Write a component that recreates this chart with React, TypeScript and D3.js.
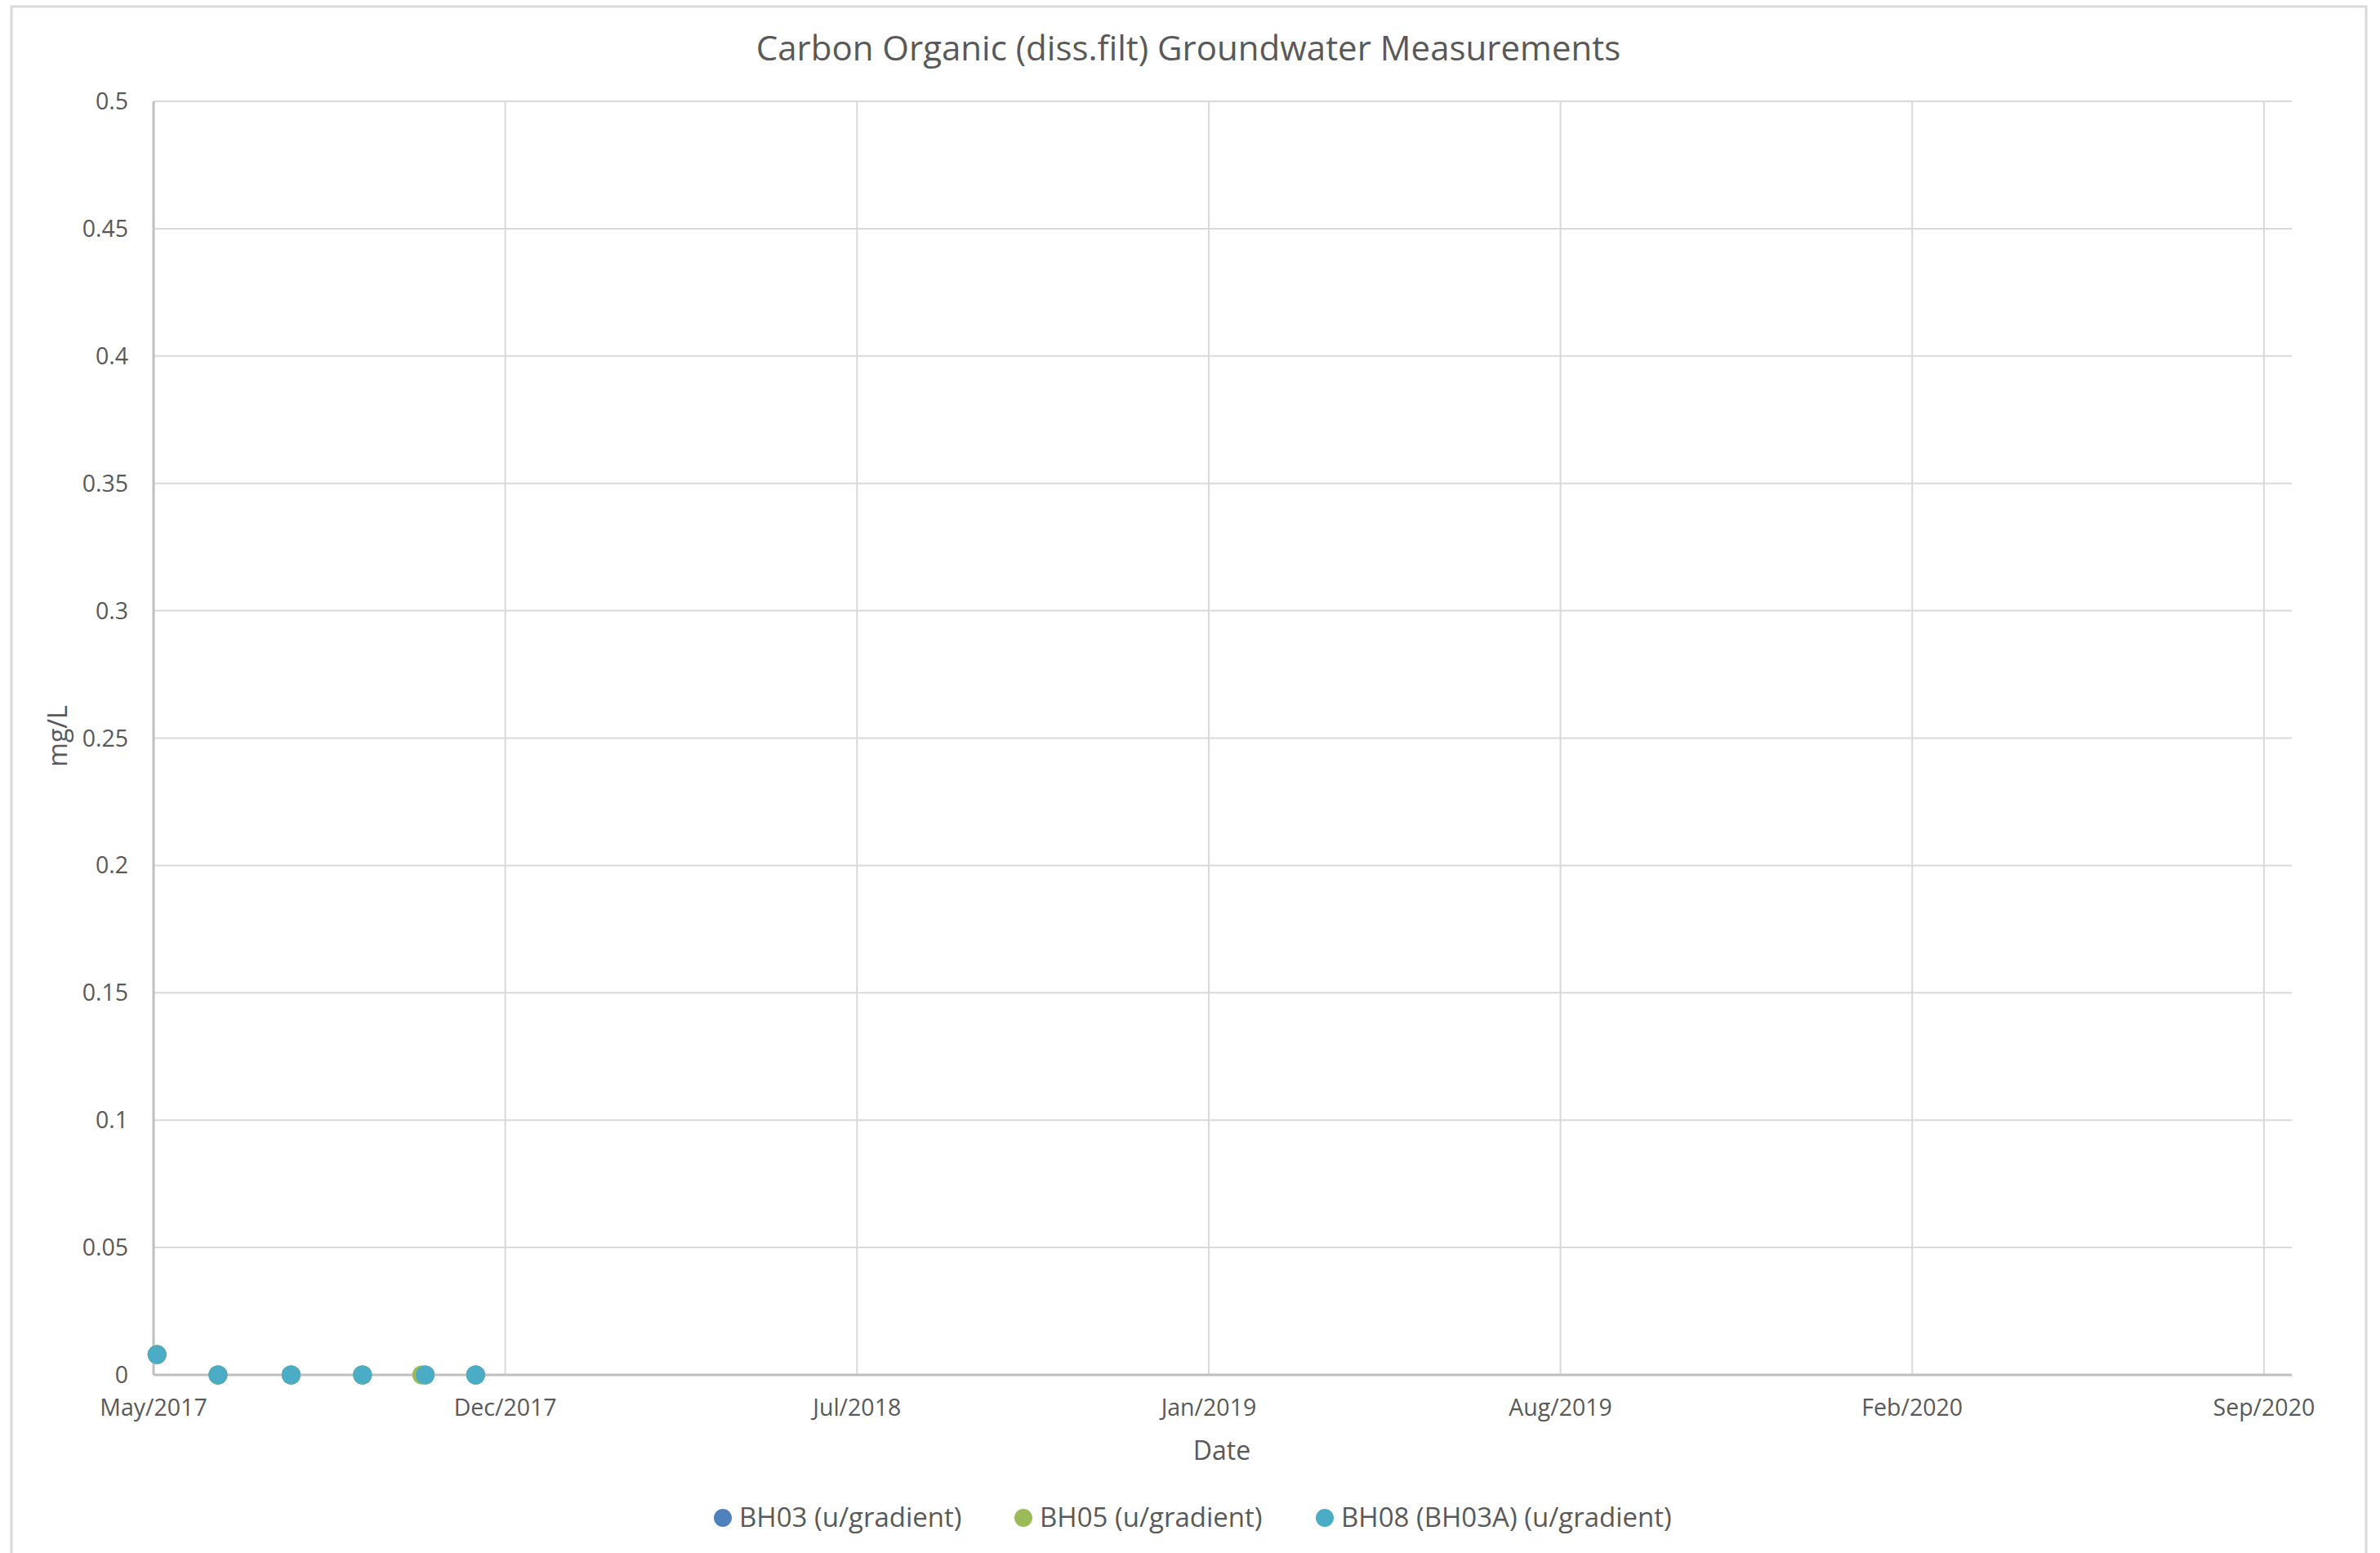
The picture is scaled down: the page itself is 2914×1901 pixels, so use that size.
import React from "react";
import * as d3 from "d3";

const seriesNames = ["BH03 (u/gradient)", "BH05 (u/gradient)", "BH08 (BH03A) (u/gradient)"];
const seriesColors = ["#4F81BD", "#9BBB59", "#4BACC6"];

const bh03Dates = ["2017-05-27", "2017-07-01", "2017-08-12", "2017-09-22", "2017-10-28", "2017-11-26"];
const bh03Values = [0.008, 0, 0, 0, 0, 0];
const bh05Dates = ["2017-05-27", "2017-07-01", "2017-08-12", "2017-09-22", "2017-10-26", "2017-11-26"];
const bh05Values = [0.008, 0, 0, 0, 0, 0];
const bh08Dates = ["2017-05-27", "2017-07-01", "2017-08-12", "2017-09-22", "2017-10-28", "2017-11-26"];
const bh08Values = [0.008, 0, 0, 0, 0, 0];

const xTickDates = ["2017-05-25", "2017-12-13", "2018-07-03", "2019-01-21", "2019-08-11", "2020-02-29", "2020-09-18"];
const xDomain = ["2017-05-25", "2020-10-04"];
const yTicks = [0, 0.05, 0.1, 0.15, 0.2, 0.25, 0.3, 0.35, 0.4, 0.45, 0.5];

const title = "Carbon Organic (diss.filt) Groundwater Measurements";
const xTitle = "Date";
const yTitle = "mg/L";

const W = 2914, H = 1901;
const plot = { left: 188, top: 124, right: 2806, bottom: 1683 };
const FONT = "'Open Sans', 'Noto Sans', sans-serif";
const TXT = "#595959";
const GRID = "#d9d9d9";

const parse = (s: string) => new Date(s + "T00:00:00");

export default function App() {
  const x = d3.scaleTime().domain(xDomain.map(parse)).range([plot.left, plot.right]);
  const y = d3.scaleLinear().domain([0, 0.5]).range([plot.bottom, plot.top]);
  const fmt = d3.timeFormat("%b/%Y");

  const series = [
    { dates: bh03Dates, values: bh03Values },
    { dates: bh05Dates, values: bh05Values },
    { dates: bh08Dates, values: bh08Values },
  ];

  const legendX = [885, 1253, 1622];

  return (
    <svg width={W} height={H} style={{ position: "absolute", left: 0, top: 0, background: "#fff" }}>
      <rect x={0} y={0} width={W} height={H} fill="#fff" />
      <rect x={14} y={8} width={2883} height={H + 20} fill="none" stroke={GRID} strokeWidth={3} />
      <text x={1455} y={74} textAnchor="middle" fontFamily={FONT} fontSize={42} fill={TXT}>{title}</text>

      {yTicks.map((t) => (
        <g key={"y" + t}>
          {t > 0 && <line x1={plot.left} x2={plot.right} y1={y(t)} y2={y(t)} stroke={GRID} strokeWidth={2} />}
          <text x={157} y={y(t) + 10} textAnchor="end" fontFamily={FONT} fontSize={28.5} fill={TXT}>{String(t)}</text>
        </g>
      ))}
      {xTickDates.map((d, i) => (
        <g key={"x" + d}>
          {i > 0 && <line x1={x(parse(d))} x2={x(parse(d))} y1={plot.top} y2={plot.bottom} stroke={GRID} strokeWidth={2} />}
          <text x={x(parse(d))} y={1733} textAnchor="middle" fontFamily={FONT} fontSize={28.5} fill={TXT}>{fmt(parse(d))}</text>
        </g>
      ))}
      <line x1={plot.left} x2={plot.left} y1={plot.top} y2={plot.bottom} stroke="#bfbfbf" strokeWidth={3} />
      <line x1={plot.left} x2={plot.right} y1={plot.bottom} y2={plot.bottom} stroke="#bfbfbf" strokeWidth={3} />

      <text x={1496} y={1787} textAnchor="middle" fontFamily={FONT} fontSize={32} fill={TXT}>{xTitle}</text>
      <text transform={`translate(82,${901}) rotate(-90)`} textAnchor="middle" fontFamily={FONT} fontSize={32} fill={TXT}>{yTitle}</text>

      {series.map((s, si) => (
        <g key={"s" + si}>
          {s.dates.map((d, i) => (
            <circle key={i} cx={x(parse(d))} cy={y(s.values[i])} r={11.5} fill={seriesColors[si]} />
          ))}
        </g>
      ))}

      {seriesNames.map((n, i) => (
        <g key={"l" + i}>
          <circle cx={legendX[i]} cy={1858} r={11} fill={seriesColors[i]} />
          <text x={legendX[i] + 20} y={1869} fontFamily={FONT} fontSize={33} fill={TXT}>{n}</text>
        </g>
      ))}
    </svg>
  );
}
